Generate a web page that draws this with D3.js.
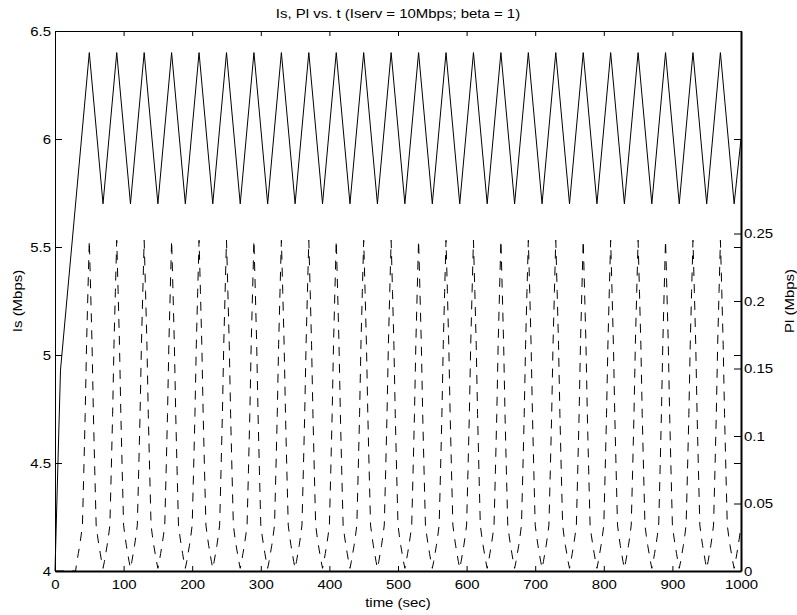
<!DOCTYPE html>
<html>
<head>
<meta charset="utf-8">
<script src="https://cdn.jsdelivr.net/npm/d3@7"></script>
<style>
  html, body { margin: 0; padding: 0; background: #fff; }
  svg { display: block; }
  text { font-family: "Liberation Sans", Arial, Helvetica, sans-serif; fill: #000; }
</style>
</head>
<body>
<svg id="chart" width="797" height="615"></svg>
<script>
// ---------------- data ----------------
const titleText = "Is, Pl vs. t (Iserv = 10Mbps; beta = 1)";
const xLabel = "time (sec)";
const yLeftLabel = "Is (Mbps)";
const yRightLabel = "Pl (Mbps)";

const xTicks = [0, 100, 200, 300, 400, 500, 600, 700, 800, 900, 1000];
const yLeftTicks = [4, 4.5, 5, 5.5, 6, 6.5];
const yRightTicks = [0, 0.05, 0.1, 0.15, 0.2, 0.25];

// Is (solid, left axis): vertices of the sawtooth
const isTime = [0, 8, 50, 70, 90, 110, 130, 150, 170, 190, 210, 230, 250, 270, 290, 310, 330, 350,
  370, 390, 410, 430, 450, 470, 490, 510, 530, 550, 570, 590, 610, 630, 650, 670, 690, 710, 730,
  750, 770, 790, 810, 830, 850, 870, 890, 910, 930, 950, 970, 990, 1000];
const isValue = [4, 4.93, 6.4, 5.7, 6.4, 5.7, 6.4, 5.7, 6.4, 5.7, 6.4, 5.7, 6.4, 5.7, 6.4, 5.7, 6.4, 5.7,
  6.4, 5.7, 6.4, 5.7, 6.4, 5.7, 6.4, 5.7, 6.4, 5.7, 6.4, 5.7, 6.4, 5.7, 6.4, 5.7, 6.4, 5.7, 6.4,
  5.7, 6.4, 5.7, 6.4, 5.7, 6.4, 5.7, 6.4, 5.7, 6.4, 5.7, 6.4, 5.7, 6.0];

// Pl (dashed, right axis): sampled every 2 s from t = 0 to t = 1000
const plTime = d3.range(0, 1001, 2);
const plValue = [
  0, 0, 0, 0, 0, 0, 0, 0, 0, 0, 0, 0, 0, 0, 0,
  0, .007, .013, .019, .026, .034, .074, .116, .168, .207, .245, .207, .168, .116, .074, .034, .026, .019, .013, .007,
  .002, .007, .013, .019, .026, .034, .074, .116, .168, .207, .245, .207, .168, .116, .074, .034, .026, .019, .013, .007,
  .002, .007, .013, .019, .026, .034, .074, .116, .168, .207, .245, .207, .168, .116, .074, .034, .026, .019, .013, .007,
  .002, .007, .013, .019, .026, .034, .074, .116, .168, .207, .245, .207, .168, .116, .074, .034, .026, .019, .013, .007,
  .002, .007, .013, .019, .026, .034, .074, .116, .168, .207, .245, .207, .168, .116, .074, .034, .026, .019, .013, .007,
  .002, .007, .013, .019, .026, .034, .074, .116, .168, .207, .245, .207, .168, .116, .074, .034, .026, .019, .013, .007,
  .002, .007, .013, .019, .026, .034, .074, .116, .168, .207, .245, .207, .168, .116, .074, .034, .026, .019, .013, .007,
  .002, .007, .013, .019, .026, .034, .074, .116, .168, .207, .245, .207, .168, .116, .074, .034, .026, .019, .013, .007,
  .002, .007, .013, .019, .026, .034, .074, .116, .168, .207, .245, .207, .168, .116, .074, .034, .026, .019, .013, .007,
  .002, .007, .013, .019, .026, .034, .074, .116, .168, .207, .245, .207, .168, .116, .074, .034, .026, .019, .013, .007,
  .002, .007, .013, .019, .026, .034, .074, .116, .168, .207, .245, .207, .168, .116, .074, .034, .026, .019, .013, .007,
  .002, .007, .013, .019, .026, .034, .074, .116, .168, .207, .245, .207, .168, .116, .074, .034, .026, .019, .013, .007,
  .002, .007, .013, .019, .026, .034, .074, .116, .168, .207, .245, .207, .168, .116, .074, .034, .026, .019, .013, .007,
  .002, .007, .013, .019, .026, .034, .074, .116, .168, .207, .245, .207, .168, .116, .074, .034, .026, .019, .013, .007,
  .002, .007, .013, .019, .026, .034, .074, .116, .168, .207, .245, .207, .168, .116, .074, .034, .026, .019, .013, .007,
  .002, .007, .013, .019, .026, .034, .074, .116, .168, .207, .245, .207, .168, .116, .074, .034, .026, .019, .013, .007,
  .002, .007, .013, .019, .026, .034, .074, .116, .168, .207, .245, .207, .168, .116, .074, .034, .026, .019, .013, .007,
  .002, .007, .013, .019, .026, .034, .074, .116, .168, .207, .245, .207, .168, .116, .074, .034, .026, .019, .013, .007,
  .002, .007, .013, .019, .026, .034, .074, .116, .168, .207, .245, .207, .168, .116, .074, .034, .026, .019, .013, .007,
  .002, .007, .013, .019, .026, .034, .074, .116, .168, .207, .245, .207, .168, .116, .074, .034, .026, .019, .013, .007,
  .002, .007, .013, .019, .026, .034, .074, .116, .168, .207, .245, .207, .168, .116, .074, .034, .026, .019, .013, .007,
  .002, .007, .013, .019, .026, .034, .074, .116, .168, .207, .245, .207, .168, .116, .074, .034, .026, .019, .013, .007,
  .002, .007, .013, .019, .026, .034, .074, .116, .168, .207, .245, .207, .168, .116, .074, .034, .026, .019, .013, .007,
  .002, .007, .013, .019, .026, .034, .074, .116, .168, .207, .245, .207, .168, .116, .074, .034, .026, .019, .013, .007,
  .002, .007, .013, .019, .026, .034
];

// ---------------- layout ----------------
const svg = d3.select("#chart");
const plot = { left: 55, right: 741, top: 31, bottom: 571 };
const FS = 13, STRETCH = 1.15;

const x = d3.scaleLinear().domain([0, 1000]).range([plot.left, plot.right]);
const yL = d3.scaleLinear().domain([4, 6.5]).range([plot.bottom, plot.top]);
const yR = d3.scaleLinear().domain([0, 0.4]).range([plot.bottom, plot.top]);

// lines
const isData = isTime.map((t, i) => [t, isValue[i]]);
const plData = plTime.map((t, i) => [t, plValue[i]]);

svg.append("path")
  .datum(plData)
  .attr("fill", "none")
  .attr("stroke", "#000")
  .attr("stroke-width", 1)
  .attr("stroke-dasharray", "9 8")
  .attr("d", d3.line().x(d => x(d[0])).y(d => yR(d[1])));

svg.append("path")
  .datum(isData)
  .attr("fill", "none")
  .attr("stroke", "#000")
  .attr("stroke-width", 1)
  .attr("d", d3.line().x(d => x(d[0])).y(d => yL(d[1])));

// axes
function styleAxis(g, width) {
  g.selectAll(".domain").attr("stroke", "#000").attr("stroke-width", width);
  g.selectAll(".tick line").attr("stroke", "#000").attr("stroke-width", 1);
  g.selectAll("text").attr("font-size", FS).attr("font-family", null);
}

const gBottom = svg.append("g").attr("transform", `translate(0,${plot.bottom})`)
  .call(d3.axisBottom(x).tickValues(xTicks).tickFormat(d3.format("d")).tickSize(-5).tickSizeOuter(0).tickPadding(9));
styleAxis(gBottom, 2);

const gTop = svg.append("g").attr("transform", `translate(0,${plot.top})`)
  .call(d3.axisTop(x).tickValues(xTicks).tickFormat("").tickSize(-5).tickSizeOuter(0));
styleAxis(gTop, 1);

const gLeft = svg.append("g").attr("transform", `translate(${plot.left},0)`)
  .call(d3.axisLeft(yL).tickValues(yLeftTicks).tickFormat(d => d3.format("")(d)).tickSize(-7).tickSizeOuter(0).tickPadding(4));
styleAxis(gLeft, 1);

const gRightMirror = svg.append("g").attr("transform", `translate(${plot.right},0)`)
  .call(d3.axisRight(yL).tickValues(yLeftTicks).tickFormat("").tickSize(-7).tickSizeOuter(0));
styleAxis(gRightMirror, 2);

const gRight = svg.append("g").attr("transform", `translate(${plot.right},0)`)
  .call(d3.axisRight(yR).tickValues(yRightTicks).tickFormat(d => d3.format("")(d)).tickSize(-7).tickSizeOuter(0).tickPadding(3));
styleAxis(gRight, 2);
gRight.selectAll(".domain").remove();

// titles
svg.append("text").attr("class", "lbl")
  .attr("x", (plot.left + plot.right) / 2).attr("y", 18)
  .attr("text-anchor", "middle").attr("font-size", FS).text(titleText);

svg.append("text").attr("class", "lbl")
  .attr("x", (plot.left + plot.right) / 2).attr("y", 607)
  .attr("text-anchor", "middle").attr("font-size", FS).text(xLabel);

svg.append("text").attr("class", "lbl")
  .attr("transform", `translate(22,${(plot.top + plot.bottom) / 2}) rotate(-90)`)
  .attr("text-anchor", "middle").attr("font-size", FS).text(yLeftLabel);

svg.append("text").attr("class", "lbl")
  .attr("transform", `translate(794,${(plot.top + plot.bottom) / 2}) rotate(-90)`)
  .attr("text-anchor", "middle").attr("font-size", FS).text(yRightLabel);

// horizontal stretch of all text to match the reference glyph widths
svg.selectAll("text").each(function () {
  const w = this.getComputedTextLength();
  if (w > 0) {
    d3.select(this).attr("textLength", w * STRETCH).attr("lengthAdjust", "spacingAndGlyphs");
  }
});
</script>
</body>
</html>
